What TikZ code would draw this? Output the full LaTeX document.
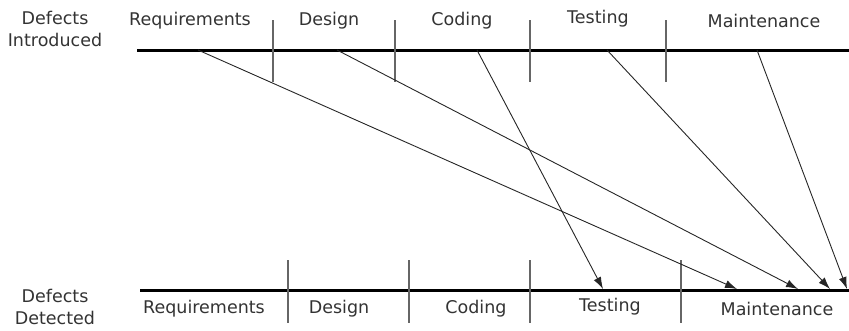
\documentclass[tikz,border=0pt]{standalone}
\usepackage{fontspec}
\setmainfont{DejaVu Sans}
\usetikzlibrary{arrows.meta}

\begin{document}
\begin{tikzpicture}[x=1pt,y=-1pt,
  phase/.style={font=\fontsize{17.5}{22}\selectfont,text=black!80,inner sep=1pt},
  axis/.style={line width=3pt,black},
  tick/.style={line width=1.2pt,black!60},
  flow/.style={line width=0.9pt,black!85,-{Latex[length=12pt,width=8pt]}}]
          \useasboundingbox (0,0) rectangle (849,330);

          % defects introduced
          \node[phase,align=center] (intro) at (55,29) {Defects\\Introduced};
          \node[phase] (ireq) at (190,21) {Requirements};
          \node[phase] (ides) at (329,21) {Design};
          \node[phase] (icod) at (462,21) {Coding};
          \node[phase] (ites) at (598,19) {Testing};
          \node[phase] (imai) at (764,21) {Maintenance};

          \coordinate (ia) at (137,50);
          \coordinate (ib) at (849,50);
          \draw[axis] (ia) -- (ib);
          \foreach \x/\n in {273/1,395/2,530/3,666/4} {
            \coordinate (it\n) at (\x,20);
            \coordinate (ib\n) at (\x,82);
            \draw[tick] (it\n) -- (ib\n);
          }

          % defects detected
          \node[phase,align=center] (detect) at (55,307) {Defects\\Detected};
          \node[phase] (dreq) at (204,309) {Requirements};
          \node[phase] (ddes) at (339,309) {Design};
          \node[phase] (dcod) at (476,309) {Coding};
          \node[phase] (dtes) at (610,307) {Testing};
          \node[phase] (dmai) at (777,309) {Maintenance};

          \coordinate (da) at (140,290);
          \coordinate (db) at (849,290);
          \draw[axis] (da) -- (db);
          \foreach \x/\n in {288/1,409/2,530/3,681/4} {
            \coordinate (dt\n) at (\x,260);
            \coordinate (db\n) at (\x,323);
            \draw[tick] (dt\n) -- (db\n);
          }

          % where each defect is found
          \foreach \s/\e/\n in {198/737/1,337/798/2,477/603/3,607/830/4,757/847/5} {
            \coordinate (from\n) at (\s,50);
            \coordinate (to\n) at (\e,289);
            \draw[flow] (from\n) -- (to\n);
          }
\end{tikzpicture}
\end{document}
